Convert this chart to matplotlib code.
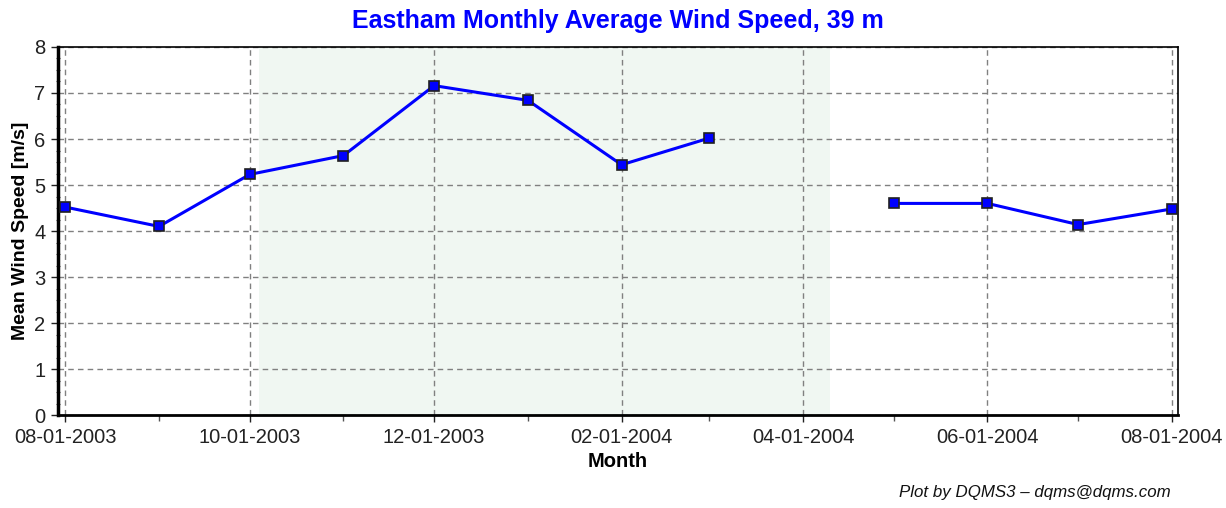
import numpy as np
import matplotlib
matplotlib.use('Agg')
import matplotlib.pyplot as plt
import matplotlib.dates as mdates
from matplotlib.ticker import MultipleLocator
from datetime import datetime

plt.rcParams['font.family'] = ['Liberation Sans', 'DejaVu Sans']

# monthly averages, 39 m (April 2004 missing)
months = ['2003-08', '2003-09', '2003-10', '2003-11', '2003-12', '2004-01',
          '2004-02', '2004-03', '2004-04', '2004-05', '2004-06', '2004-07', '2004-08']
speed = [4.52, 4.10, 5.23, 5.64, 7.16, 6.84, 5.44, 6.02, np.nan, 4.60, 4.60, 4.14, 4.48]

dates = [datetime.strptime(m + '-01', '%Y-%m-%d') for m in months]

fig = plt.figure(figsize=(12.26, 5.08), dpi=100)
ax = fig.add_axes([0.0473, 0.183, 0.9137, 0.7245])

# faint watermark-ish background
ax.axvspan(datetime(2003, 10, 4), datetime(2004, 4, 10), color='#f0f7f2', zorder=0, lw=0)

ax.plot(dates, speed, color='#0000ff', lw=2.2, marker='s', ms=7,
        mfc='#0000ff', mec='#202020', mew=1.2, zorder=3)

ax.set_ylim(0, 8)
ax.set_xlim(datetime(2003, 7, 29, 14), datetime(2004, 8, 3, 2))
ax.xaxis.set_major_locator(mdates.MonthLocator(bymonth=[2, 4, 6, 8, 10, 12]))
ax.xaxis.set_minor_locator(mdates.MonthLocator())
ax.xaxis.set_major_formatter(mdates.DateFormatter('%m-%d-%Y'))
ax.set_yticks(range(0, 9))
ax.yaxis.set_minor_locator(MultipleLocator(0.25))

ax.grid(True, which='major', color='#808080', ls=(0, (4, 3)), lw=1)
ax.tick_params(colors='#222222', length=5, width=1, pad=4, labelsize=14.5)
ax.tick_params(axis='y', which='minor', length=3, width=0.8, direction='inout', color='#555555')
ax.tick_params(axis='x', which='minor', length=4, width=1, color='#555555')

for s in ['top', 'right']:
    ax.spines[s].set_linewidth(1.2)
ax.spines['left'].set_linewidth(2.5)
ax.spines['bottom'].set_linewidth(2.0)

ax.set_title('Eastham Monthly Average Wind Speed, 39 m', color='#0000ff',
             fontsize=18, fontweight='bold', pad=14)
ax.set_ylabel('Mean Wind Speed [m/s]', fontsize=14, fontweight='bold', labelpad=4)
ax.set_xlabel('Month', fontsize=14.5, fontweight='bold', labelpad=4)

fig.text(0.955, 0.015, 'Plot by DQMS3 – dqms@dqms.com', ha='right', va='bottom',
         fontsize=12.2, style='italic', color='#111111')

fig.savefig('out.png', dpi=100)
